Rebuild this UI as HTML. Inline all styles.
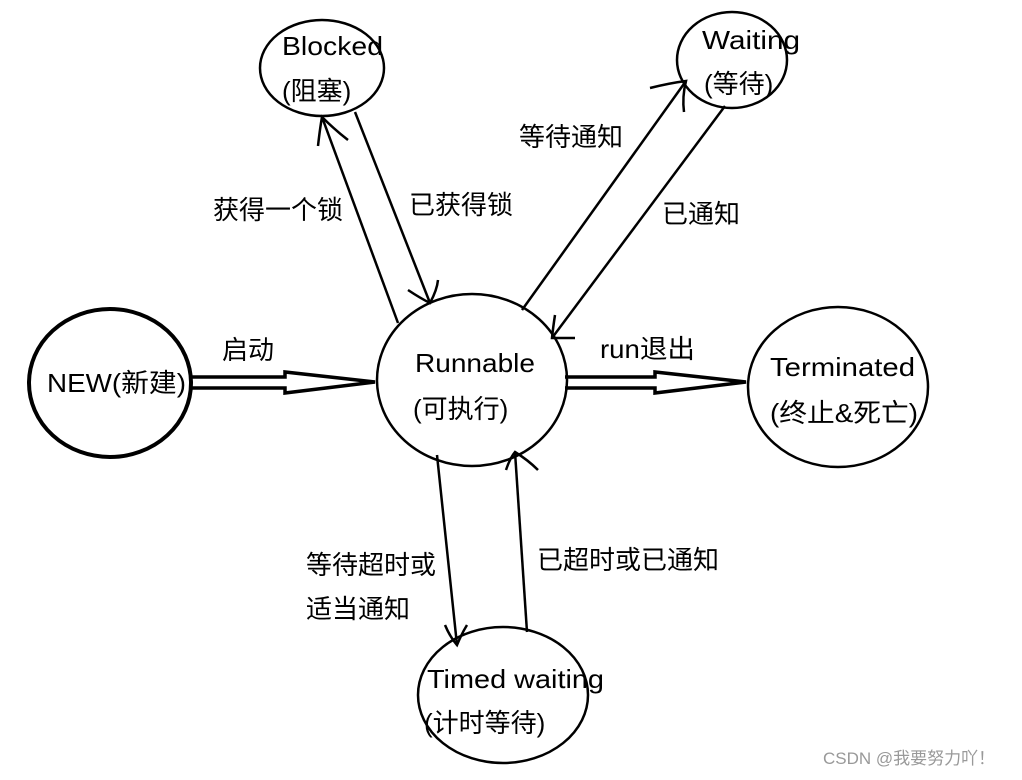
<!DOCTYPE html>
<html><head><meta charset="utf-8"><style>
html,body{margin:0;padding:0;background:#fff}
svg text{font-family:"Liberation Sans","Noto Sans CJK SC",sans-serif;font-size:26px;fill:#000}
</style></head><body>
<svg width="1022" height="775" viewBox="0 0 1022 775" xmlns="http://www.w3.org/2000/svg">
<g fill="none" stroke="#000" stroke-width="2.5">
<ellipse cx="322" cy="68" rx="62" ry="48"/>
<ellipse cx="732" cy="60" rx="55" ry="48"/>
<ellipse cx="110" cy="383" rx="81" ry="74" stroke-width="4"/>
<ellipse cx="472" cy="380" rx="95" ry="86"/>
<ellipse cx="838" cy="387" rx="90" ry="80"/>
<ellipse cx="503" cy="695" rx="85" ry="68"/>
<path d="M192 377 H285 V372 L375 382 L285 393 V388 H192" stroke-width="3.5"/>
<path d="M565 377 H655 V372 L746 382 L655 393 V388 H565" stroke-width="3.5"/>
<path d="M398 323 L322 117"/>
<path d="M318 146 Q320 128 322 117 Q335 130 348 140"/>
<path d="M355 112 L430 303"/>
<path d="M408 290 Q420 298 430 303 Q437 290 438 280"/>
<path d="M522 310 L686 81"/>
<path d="M650 88 Q670 83 686 81 Q682 97 684 112"/>
<path d="M725 106 L552 338"/>
<path d="M555 315 Q553 328 552 338 Q565 338 575 338"/>
<path d="M437 455 L457 645"/>
<path d="M445 625 Q450 637 457 645 Q462 633 467 625"/>
<path d="M527 632 L515 452"/>
<path d="M506 470 Q510 458 515 452 Q528 460 538 470"/>
</g>
<text x="282" y="55" textLength="101" lengthAdjust="spacingAndGlyphs">Blocked</text>
<text x="282" y="100">(阻塞)</text>
<text x="702" y="49" textLength="98" lengthAdjust="spacingAndGlyphs">Waiting</text>
<text x="704" y="93">(等待)</text>
<text x="47" y="392" textLength="139" lengthAdjust="spacingAndGlyphs">NEW(新建)</text>
<text x="415" y="372" textLength="120" lengthAdjust="spacingAndGlyphs">Runnable</text>
<text x="413" y="418">(可执行)</text>
<text x="770" y="376" textLength="145" lengthAdjust="spacingAndGlyphs">Terminated</text>
<text x="770" y="422" textLength="148" lengthAdjust="spacingAndGlyphs">(终止&amp;死亡)</text>
<text x="427" y="688" textLength="177" lengthAdjust="spacingAndGlyphs">Timed waiting</text>
<text x="424" y="732">(计时等待)</text>
<text x="222" y="359">启动</text>
<text x="600" y="358" textLength="95" lengthAdjust="spacingAndGlyphs">run退出</text>
<text x="213" y="219">获得一个锁</text>
<text x="409" y="214">已获得锁</text>
<text x="519" y="146">等待通知</text>
<text x="662" y="223">已通知</text>
<text x="306" y="574">等待超时或</text>
<text x="306" y="618">适当通知</text>
<text x="537" y="569">已超时或已通知</text>
<text x="823" y="764" style="font-size:17px;fill:#999">CSDN @我要努力吖！</text>
</svg>
</body></html>
